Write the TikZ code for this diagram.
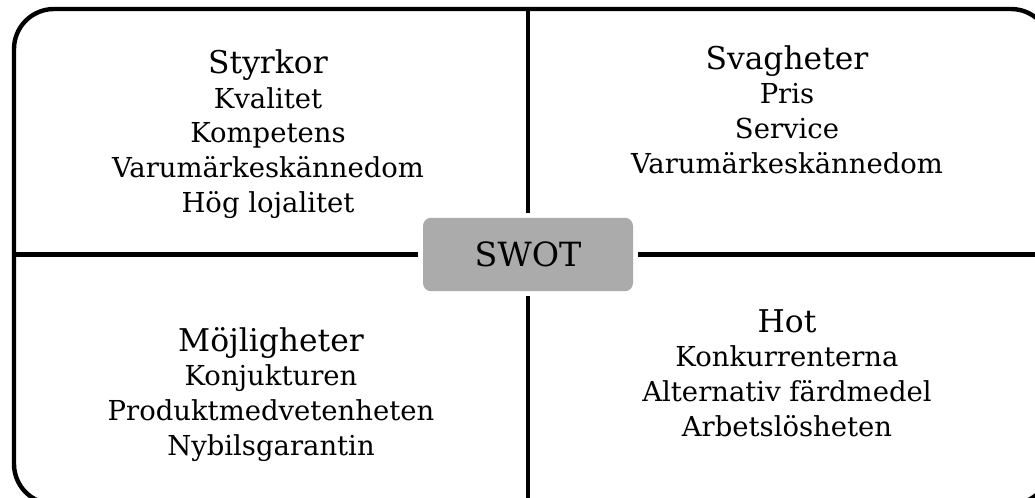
\documentclass[tikz,border=0pt]{standalone}
\usepackage{fontspec}
\setmainfont{DejaVu Serif}
\usetikzlibrary{positioning}

\newcommand{\qtitle}[1]{{\fontsize{23.5}{25.9}\selectfont #1}}

\begin{document}
\begin{tikzpicture}[x=0.75pt, y=-0.75pt,
                    quad/.style={align=center, inner sep=0pt, anchor=base, font=\fontsize{20.6}{25.9}\selectfont},
                    swotbox/.style={fill=black!33, rounded corners=6pt, minimum width=157.5pt, minimum height=55pt, outer sep=3.75pt, font=\fontsize{25}{30}\selectfont},
                    frame/.style={draw, line width=3.3pt, rounded corners=30pt, minimum width=777.75pt, minimum height=371.25pt},
                    line/.style={line width=3.3pt}
                ]
                \useasboundingbox (0,0) rectangle (1035,497);
                \clip (0,0) rectangle (1035,497);

                % Frame & centre
                \node[frame] (frame) at (532.5,256.5) {};
                \node[swotbox] (swot) at (528,254.5) {SWOT};

                % Quadrants (anchored on the last line)
                \node[quad] (styrkor) at (268,212) {\qtitle{Styrkor}\\Kvalitet\\Kompetens\\Varumärkeskännedom\\Hög lojalitet};
                \node[quad] (svagheter) at (787,173) {\qtitle{Svagheter}\\Pris\\Service\\Varumärkeskännedom};
                \node[quad] (mojligheter) at (271,455) {\qtitle{Möjligheter}\\Konjukturen\\Produktmedvetenheten\\Nybilsgarantin};
                \node[quad] (hot) at (787,436) {\qtitle{Hot}\\Konkurrenterna\\Alternativ färdmedel\\Arbetslösheten};

                % Dividers
                \draw[line] (swot.north) -- (swot.north |- frame.north);
                \draw[line] (swot.south) -- (swot.south |- frame.south);
                \draw[line] (swot.west) -- (swot.west -| frame.west);
                \draw[line] (swot.east) -- (swot.east -| frame.east);
            \end{tikzpicture}
\end{document}
